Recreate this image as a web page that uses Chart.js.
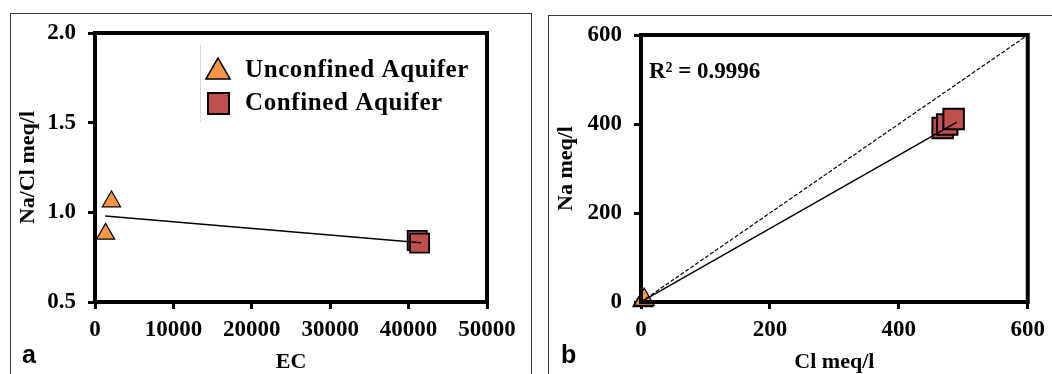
<!DOCTYPE html>
<html>
<head>
<meta charset="utf-8">
<script src="https://cdn.jsdelivr.net/npm/chart.js@4"></script>
<style>
    body { margin: 0; background: #fff; width: 1052px; height: 374px; overflow: hidden; position: relative; }
    .frame { position: absolute; border: 1px solid #3a3a3a; box-sizing: border-box; }
    .wrap { position: absolute; top: 0; width: 526px; height: 374px; }
    .tag { position: absolute; top: 340px; font: bold 25px "Liberation Sans", Arial, sans-serif; color: #000; }
</style>
</head>
<body>
<div class="frame" style="left:10px;top:13px;width:522px;height:400px"></div>
<div class="frame" style="left:548px;top:15px;width:520px;height:400px"></div>
<div class="wrap" style="left:0"><canvas id="chartA"></canvas></div>
<div class="wrap" style="left:526px"><canvas id="chartB"></canvas></div>
<div class="tag" style="left:22px">a</div>
<div class="tag" style="left:561px">b</div>
<script>
// ====== DATA (panel a: Na/Cl ratio vs EC) ======
const ecUnconfined = [1350, 2100];
const ratioUnconfined = [0.88, 1.06];
const ecConfined = [41100, 41400];
const ratioConfined = [0.843, 0.828];
const ecTrend = [1300, 41600];
const ratioTrend = [0.979, 0.831];
const ecTicks = [0, 10000, 20000, 30000, 40000, 50000];
const ratioTicks = [0.5, 1.0, 1.5, 2.0];

// ====== DATA (panel b: Na vs Cl) ======
const clUnconfined = [3, 5];
const naUnconfined = [2.6, 5.3];
const clConfined = [468, 475, 485];
const naConfined = [391, 399, 411];
const clTrend = [2, 490];
const naTrend = [2, 404];
const clEqual = [0, 600];
const naEqual = [0, 600];
const meqTicks = [0, 200, 400, 600];

const seriesNames = ['Unconfined Aquifer', 'Confined Aquifer'];
const r2Text = 'R² = 0.9996';

const ORANGE = '#F79646';
const RED = '#C0504D';
const SERIF = "'Liberation Serif', 'Times New Roman', serif";

const pts = (xs, ys) => xs.map((x, i) => ({ x: x, y: ys[i] }));

// box round the plot area, drawn over the marks like the original
const framePlugin = {
    id: 'frame',
    afterDatasetsDraw(chart) {
        const { ctx, chartArea: a } = chart;
        ctx.save();
        ctx.lineWidth = 4;
        ctx.strokeStyle = '#000';
        ctx.strokeRect(a.left, a.top, a.right - a.left, a.bottom - a.top);
        ctx.restore();
    }
};

function triangle(ctx, x, y, r) {
    ctx.beginPath();
    ctx.moveTo(x, y - r);
    ctx.lineTo(x + r * Math.sin(Math.PI / 3), y + r / 2);
    ctx.lineTo(x - r * Math.sin(Math.PI / 3), y + r / 2);
    ctx.closePath();
}

// legend inside panel a
const legendPlugin = {
    id: 'insideLegend',
    afterDraw(chart) {
        const ctx = chart.ctx;
        ctx.save();
        ctx.strokeStyle = '#d9d9d9';
        ctx.lineWidth = 1;
        ctx.beginPath();
        ctx.moveTo(200.5, 45);
        ctx.lineTo(200.5, 122);
        ctx.stroke();

        ctx.fillStyle = ORANGE;
        ctx.strokeStyle = '#000';
        ctx.lineWidth = 1.5;
        triangle(ctx, 218, 72, 14);
        ctx.fill();
        ctx.stroke();

        ctx.fillStyle = RED;
        ctx.lineWidth = 2;
        ctx.fillRect(208, 93, 21, 21);
        ctx.strokeRect(208, 93, 21, 21);

        ctx.fillStyle = '#000';
        ctx.font = 'bold 25px ' + SERIF;
        if ('letterSpacing' in ctx) ctx.letterSpacing = '0.6px';
        ctx.textAlign = 'left';
        ctx.textBaseline = 'middle';
        ctx.fillText(seriesNames[0], 245, 71);
        ctx.fillText(seriesNames[1], 245, 104);
        ctx.restore();
    }
};

const r2Plugin = {
    id: 'r2',
    afterDraw(chart) {
        const ctx = chart.ctx;
        ctx.save();
        ctx.fillStyle = '#000';
        ctx.font = 'bold 23px ' + SERIF;
        ctx.textAlign = 'left';
        ctx.textBaseline = 'middle';
        ctx.fillText(r2Text, 123, 72);
        ctx.restore();
    }
};

function axis(min, max, tickList, fmt, title, fitSize, horizontal, titlePad) {
    return {
        type: 'linear',
        min: min,
        max: max,
        afterBuildTicks: scale => { scale.ticks = tickList.map(v => ({ value: v })); },
        afterFit: scale => {
            if (horizontal) scale.height = fitSize; else scale.width = fitSize;
        },
        border: { display: false },
        grid: { drawOnChartArea: false, drawTicks: true, tickLength: 7, color: '#000', lineWidth: 3 },
        ticks: {
            color: '#000',
            font: { family: SERIF, size: 23, weight: 'bold' },
            padding: horizontal ? 7 : 12,
            maxRotation: 0,
            autoSkip: false,
            callback: fmt
        },
        title: {
            display: true,
            text: title,
            color: '#000',
            font: { family: SERIF, size: 22, weight: 'bold' },
            padding: titlePad
        }
    };
}

function baseOptions(scales, padding) {
    return {
        responsive: true,
        maintainAspectRatio: false,
        animation: false,
        layout: { padding: padding },
        plugins: { legend: { display: false }, tooltip: { enabled: false } },
        scales: scales
    };
}

// ====== PANEL A ======
new Chart(document.getElementById('chartA'), {
    type: 'scatter',
    data: {
        datasets: [{
            label: 'trend',
            data: pts(ecTrend, ratioTrend),
            showLine: true,
            borderColor: '#000',
            borderWidth: 1.5,
            pointRadius: 0,
            order: 0
        }, {
            label: seriesNames[0],
            data: pts(ecUnconfined, ratioUnconfined),
            pointStyle: 'triangle',
            pointRadius: 10.5,
            backgroundColor: ORANGE,
            borderColor: '#000',
            borderWidth: 1.2,
            clip: false,
            order: 1
        }, {
            label: seriesNames[1],
            data: pts(ecConfined, ratioConfined),
            pointStyle: 'rect',
            pointRadius: 13.5,
            backgroundColor: RED,
            borderColor: '#000',
            borderWidth: 1.8,
            clip: false,
            order: 1
        }]
    },
    options: baseOptions({
        x: axis(0, 50000, ecTicks, v => String(v), 'EC', 72, true, { top: 0, bottom: -2 }),
        y: axis(0.5, 2.0, ratioTicks, v => v.toFixed(1), 'Na/Cl meq/l', 95, false, { top: 15, bottom: 0 })
    }, { left: 0, top: 33, right: 39, bottom: 0 }),
    plugins: [framePlugin, legendPlugin]
});

// ====== PANEL B ======
new Chart(document.getElementById('chartB'), {
    type: 'scatter',
    data: {
        datasets: [{
            label: 'trend',
            data: pts(clTrend, naTrend),
            showLine: true,
            borderColor: '#000',
            borderWidth: 1.5,
            pointRadius: 0,
            order: 0
        }, {
            label: '1:1',
            data: pts(clEqual, naEqual),
            showLine: true,
            borderColor: '#000',
            borderWidth: 1.2,
            borderDash: [4, 2],
            pointRadius: 0,
            order: 0
        }, {
            label: seriesNames[0],
            data: pts(clUnconfined, naUnconfined),
            pointStyle: 'triangle',
            pointRadius: 11.5,
            backgroundColor: ORANGE,
            borderColor: '#000',
            borderWidth: 1.2,
            clip: false,
            order: 1
        }, {
            label: seriesNames[1],
            data: pts(clConfined, naConfined),
            pointStyle: 'rect',
            pointRadius: 14.5,
            backgroundColor: RED,
            borderColor: '#000',
            borderWidth: 2,
            clip: false,
            order: 1
        }]
    },
    options: baseOptions({
        x: axis(0, 600, meqTicks, v => String(v), 'Cl meq/l', 72, true, { top: 0, bottom: -2 }),
        y: axis(0, 600, meqTicks, v => String(v), 'Na meq/l', 115, false, { top: 27, bottom: 0 })
    }, { left: 0, top: 35, right: 24, bottom: 0 }),
    plugins: [framePlugin, r2Plugin]
});
</script>
</body>
</html>
